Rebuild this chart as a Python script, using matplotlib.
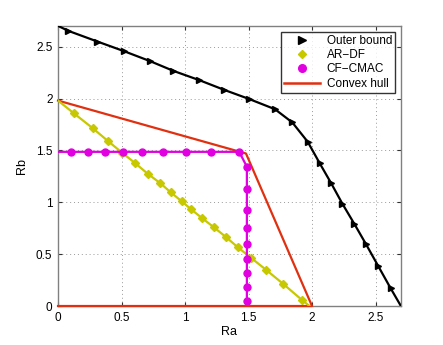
import matplotlib
matplotlib.use("Agg")
import matplotlib.pyplot as plt
from matplotlib.lines import Line2D

plt.rcParams['font.family'] = ['Liberation Sans', 'DejaVu Sans']

# Outer bound (line endpoints included, markers on inner points)
outer_x = [0.0, 0.081, 0.310, 0.520, 0.725, 0.909, 1.112, 1.309, 1.501, 1.708, 1.845,
           1.966, 2.060, 2.150, 2.239, 2.334, 2.426, 2.520, 2.618, 2.7]
outer_y = [2.7, 2.652, 2.549, 2.456, 2.360, 2.266, 2.177, 2.083, 1.997, 1.897, 1.769,
           1.583, 1.377, 1.185, 0.986, 0.790, 0.594, 0.388, 0.173, 0.0]

# AR-DF
ardf_x = [0.0, 0.126, 0.273, 0.394, 0.505, 0.610, 0.707, 0.804, 0.888, 0.975, 1.046,
          1.130, 1.225, 1.319, 1.417, 1.519, 1.640, 1.774, 1.921, 1.98]
ardf_y = [1.98, 1.856, 1.714, 1.589, 1.477, 1.374, 1.274, 1.185, 1.095, 1.008, 0.934,
          0.851, 0.761, 0.668, 0.565, 0.465, 0.347, 0.212, 0.058, 0.0]

# CF-CMAC
cf_x = [0.0, 0.100, 0.234, 0.368, 0.510, 0.660, 0.823, 1.004, 1.204, 1.427,
        1.487, 1.487, 1.487, 1.487, 1.487, 1.487, 1.487, 1.487, 1.487]
cf_y = [1.486, 1.486, 1.486, 1.486, 1.486, 1.486, 1.486, 1.486, 1.486, 1.486,
        1.342, 1.124, 0.925, 0.754, 0.597, 0.456, 0.315, 0.180, 0.048]

# Convex hull
hull_x = [0.0, 1.48, 2.0, 0.0]
hull_y = [1.98, 1.47, 0.0, 0.0]

xticks = [0, 0.5, 1, 1.5, 2, 2.5]
yticks = [0, 0.5, 1, 1.5, 2, 2.5]
xticklabels = ['0', '0.5', '1', '1.5', '2', '2.5']
yticklabels = ['0', '0.5', '1', '1.5', '2', '2.5']

fig = plt.figure(figsize=(4.43, 3.45), dpi=100)
ax = fig.add_axes([0.131, 0.113, 0.774, 0.812])

yel = '#c8c800'
mag = '#e000e0'
red = '#e03010'

ax.plot(hull_x, hull_y, color=red, lw=1.6, zorder=3, clip_on=False)
ax.plot(ardf_x, ardf_y, color=yel, lw=1.6, marker='D', ms=4.2, mfc=yel, mec=yel,
        markevery=slice(1, -1), zorder=3)
ax.plot(cf_x, cf_y, color=mag, lw=1.6, marker='o', ms=5, mfc=mag, mec=mag,
        markevery=slice(1, None), zorder=3)
ax.plot(outer_x, outer_y, color='black', lw=1.6, marker='>', ms=5, mfc='black', mec='black',
        markevery=slice(1, -1), zorder=4)

ax.set_xlim(0, 2.7)
ax.set_ylim(0, 2.7)
ax.set_xticks(xticks)
ax.set_xticklabels(xticklabels)
ax.set_yticks(yticks)
ax.set_yticklabels(yticklabels)
ax.tick_params(direction='in', top=True, right=True, labelsize=8.5, length=3, colors='#333333',
               labelcolor='black', pad=4)
ax.grid(True, linestyle=(0, (1, 3)), color='#999999', lw=0.7)
for s in ax.spines.values():
    s.set_color('#808080')
    s.set_linewidth(1.0)
ax.set_xlabel('Ra', fontsize=9, labelpad=2)
ax.set_ylabel('Rb', fontsize=9, labelpad=6)

handles = [
    Line2D([], [], ls='none', marker='>', color='black', ms=6),
    Line2D([], [], ls='none', marker='D', color=yel, ms=4.5),
    Line2D([], [], ls='none', marker='o', color=mag, ms=5.5),
    Line2D([], [], color=red, lw=1.8),
]
leg = ax.legend(handles, ['Outer bound', 'AR\u2212DF', 'CF\u2212CMAC', 'Convex hull'],
                loc='upper right', fontsize=8.5, frameon=True, fancybox=False,
                borderpad=0.25, labelspacing=0.2, handlelength=3.0, handletextpad=0.6,
                borderaxespad=0.5)
leg.get_frame().set_edgecolor('black')
leg.get_frame().set_linewidth(1.0)

fig.savefig('out.png', dpi=100)
